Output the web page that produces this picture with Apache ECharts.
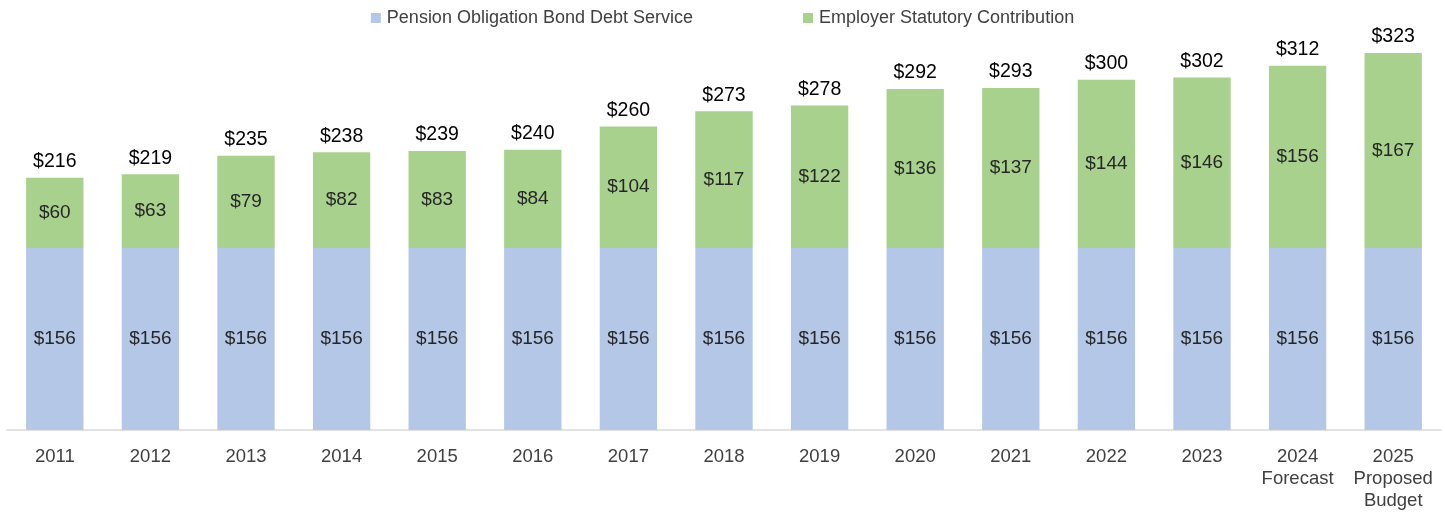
<!DOCTYPE html>
<html><head><meta charset="utf-8">
<script src="https://cdn.jsdelivr.net/npm/echarts@6/dist/echarts.min.js"></script>
<style>html,body{margin:0;padding:0;background:#fff}#c{width:1445px;height:512px}</style>
</head><body><div id="c"></div>
<script>
const categories = ['2011','2012','2013','2014','2015','2016','2017','2018','2019','2020','2021','2022','2023','2024\nForecast','2025\nProposed\nBudget'];
const bondDebt = [156,156,156,156,156,156,156,156,156,156,156,156,156,156,156];
const employer = [60,63,79,82,83,84,104,117,122,136,137,144,146,156,167];
const totals = [216,219,235,238,239,240,260,273,278,292,293,300,302,312,323];

const FONT = '"Liberation Sans", Arial, sans-serif';
const chart = echarts.init(document.getElementById('c'), null, {renderer:'canvas'});
chart.setOption({
  animation:false,
  textStyle:{fontFamily:FONT},
  legend:{
    top:4, left:'center', itemWidth:10, itemHeight:10, itemGap:110,
    icon:'rect',
    data:['Pension Obligation Bond Debt Service','Employer Statutory Contribution'],
    textStyle:{fontSize:18, color:'#404040', fontFamily:FONT, padding:[0,0,0,1]}
  },
  grid:{left:7, right:4, top:21.4, bottom:80, containLabel:false},
  xAxis:{
    type:'category', data:categories,
    axisLine:{lineStyle:{color:'#D9D9D9', width:1.5}},
    axisTick:{show:false},
    axisLabel:{fontSize:18.5, color:'#404040', margin:16, lineHeight:22, fontFamily:FONT, interval:0}
  },
  yAxis:{type:'value', min:0, max:350, show:false, splitLine:{show:false}},
  series:[
    {name:'Pension Obligation Bond Debt Service', type:'bar', stack:'s', data:bondDebt,
     barCategoryGap:'40%', itemStyle:{color:'#B4C7E7'},
     label:{show:true, position:'inside', formatter:p=>'$'+p.value, fontSize:19, color:'#262626', fontFamily:FONT}},
    {name:'Employer Statutory Contribution', type:'bar', stack:'s', data:employer,
     itemStyle:{color:'#A9D18E'},
     label:{show:true, position:'inside', formatter:p=>'$'+p.value, fontSize:19, color:'#262626', fontFamily:FONT}},
    {name:'Total', type:'bar', stack:'s', data:totals.map(()=>0),
     itemStyle:{color:'transparent'},
     label:{show:true, position:'top', distance:6, formatter:p=>'$'+totals[p.dataIndex], fontSize:19.5, color:'#000', fontFamily:FONT}}
  ]
});
</script></body></html>
